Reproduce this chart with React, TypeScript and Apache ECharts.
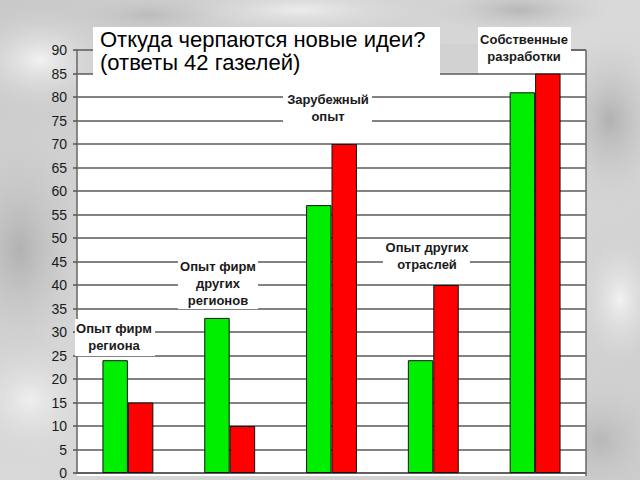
import React, { useEffect, useRef } from "react";
import * as echarts from "echarts";

const categories = [
  "Опыт фирм региона",
  "Опыт фирм других регионов",
  "Зарубежный опыт",
  "Опыт других отраслей",
  "Собственные разработки",
];
const greenValues = [24, 33, 57, 24, 81];
const redValues = [15, 10, 70, 40, 85];
const yMin = 0;
const yMax = 90;
const yInterval = 5;
const titleText = "Откуда черпаются новые идеи?\n(ответы 42 газелей)";
const categoryLabels = [
  "Опыт фирм\nрегиона",
  "Опыт фирм\nдругих\nрегионов",
  "Зарубежный\nопыт",
  "Опыт других\nотраслей",
  "Собственные\nразработки",
];

// Annotation box layout (pixels): [x, y, w, h, textCenterX, textTopY]
const labelBoxes = [
  [75, 319, 80, 37, 114, 320],
  [178, 257, 80, 52, 218, 258],
  [283, 90, 89, 34, 328, 91],
  [383, 239, 87, 33, 427, 239],
  [478, 27, 93, 46, 524, 31],
];

function marble(): any[] {
  const blobs = [
    [40, 60, 90, 60, "rgba(255,255,255,0.75)"],
    [20, 250, 70, 120, "rgba(150,150,150,0.55)"],
    [30, 400, 80, 70, "rgba(255,255,255,0.6)"],
    [610, 120, 60, 90, "rgba(140,140,140,0.5)"],
    [620, 300, 50, 80, "rgba(255,255,255,0.7)"],
    [600, 440, 60, 60, "rgba(160,160,160,0.5)"],
    [300, 10, 160, 30, "rgba(255,255,255,0.6)"],
    [520, 10, 90, 25, "rgba(150,150,150,0.5)"],
    [150, 15, 80, 20, "rgba(170,170,170,0.5)"],
  ];
  return blobs.map((b) => ({
    type: "ellipse",
    z: -20,
    silent: true,
    shape: { cx: b[0], cy: b[1], rx: b[2], ry: b[3] },
    style: {
      fill: new echarts.graphic.RadialGradient(0.5, 0.5, 0.5, [
        { offset: 0, color: b[4] as string },
        { offset: 1, color: "rgba(200,200,200,0)" },
      ]),
    },
  }));
}

export default function App() {
  const ref = useRef<HTMLDivElement>(null);
  useEffect(() => {
    if (!ref.current) return;
    const chart = echarts.init(ref.current, undefined, { renderer: "svg" });
    const graphics: any[] = [
      {
        type: "rect",
        z: -30,
        silent: true,
        shape: { x: 0, y: 0, width: 640, height: 480 },
        style: {
          fill: new echarts.graphic.LinearGradient(0, 0, 1, 1, [
            { offset: 0, color: "#c9c9c9" },
            { offset: 0.5, color: "#d9d9d9" },
            { offset: 1, color: "#cdcdcd" },
          ]),
        },
      },
      ...marble(),
      {
        type: "rect",
        z: -5,
        silent: true,
        shape: { x: 77, y: 74, width: 509, height: 402 },
        style: { fill: "#ffffff" },
      },
      {
        type: "rect",
        z: -5,
        silent: true,
        shape: { x: 478, y: 50, width: 108, height: 24 },
        style: { fill: "#ffffff" },
      },
      {
        type: "rect",
        z: 5,
        silent: true,
        shape: { x: 440, y: 44, width: 38, height: 28 },
        style: { fill: "#d2d2d2" },
      },
      {
        type: "line",
        z: 5,
        silent: true,
        shape: { x1: 586, y1: 50, x2: 586, y2: 476 },
        style: { stroke: "#666", lineWidth: 1.5 },
      },
      {
        type: "line",
        z: 5,
        silent: true,
        shape: { x1: 478, y1: 50, x2: 586, y2: 50 },
        style: { stroke: "#666", lineWidth: 1.5 },
      },
      {
        type: "rect",
        z: 10,
        silent: true,
        shape: { x: 93, y: 27, width: 347, height: 50 },
        style: { fill: "#ffffff" },
      },
      {
        type: "text",
        z: 11,
        silent: true,
        x: 100,
        y: 28,
        style: {
          text: titleText,
          fill: "#000",
          font: "22px 'Liberation Sans', Arial, sans-serif",
          lineHeight: 23,
          textAlign: "left",
          textVerticalAlign: "top",
        },
      },
    ];
    labelBoxes.forEach((b, i) => {
      graphics.push({
        type: "rect",
        z: 10,
        silent: true,
        shape: { x: b[0], y: b[1], width: b[2], height: b[3] },
        style: { fill: "#ffffff" },
      });
      graphics.push({
        type: "text",
        z: 11,
        silent: true,
        x: b[4],
        y: b[5],
        style: {
          text: categoryLabels[i],
          fill: "#1a1a1a",
          font: "bold 13px 'Liberation Sans', Arial, sans-serif",
          lineHeight: 17,
          textAlign: "center",
          textVerticalAlign: "top",
        },
      });
    });

    chart.setOption({
      animation: false,
      backgroundColor: "#d0d0d0",
      grid: { left: 77, right: 54, top: 50, bottom: 4, containLabel: false },
      xAxis: {
        type: "category",
        data: categories,
        axisLabel: { show: false },
        axisTick: { show: false },
        axisLine: { lineStyle: { color: "#555", width: 1.5 } },
      },
      yAxis: {
        type: "value",
        min: yMin,
        max: yMax,
        interval: yInterval,
        axisLine: { show: true, lineStyle: { color: "#666", width: 1.5 } },
        axisTick: { show: true, length: 4, lineStyle: { color: "#555", width: 1.5 } },
        axisLabel: {
          color: "#1a1a1a",
          fontSize: 14,
          fontFamily: "'Liberation Sans', Arial, sans-serif",
          margin: 10,
        },
        splitLine: { show: true, lineStyle: { color: "#5a5a5a", width: 1.5 } },
      },
      series: [
        {
          name: "green",
          type: "bar",
          data: greenValues,
          barWidth: "25%",
          barGap: "0%",
          itemStyle: { color: "#00ee00", borderColor: "#111", borderWidth: 1 },
        },
        {
          name: "red",
          type: "bar",
          data: redValues,
          barWidth: "25%",
          barGap: "0%",
          itemStyle: { color: "#ff0000", borderColor: "#111", borderWidth: 1 },
        },
      ],
      graphic: { elements: graphics },
    });
    return () => chart.dispose();
  }, []);
  return (
    <div
      ref={ref}
      style={{ position: "absolute", left: 0, top: 0, width: 640, height: 480 }}
    />
  );
}
